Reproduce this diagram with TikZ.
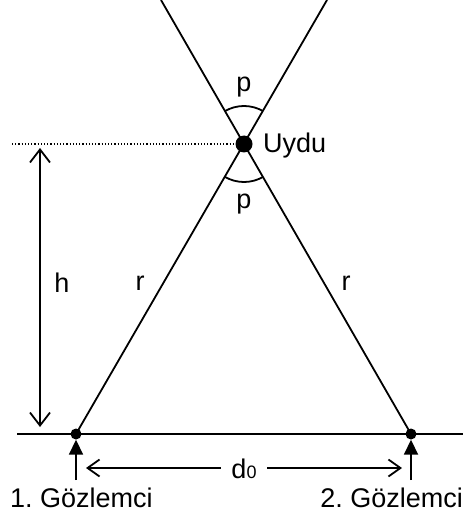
\documentclass[tikz,border=0pt]{standalone}
\usepackage{fontspec}
\setmainfont{Liberation Sans}
\usetikzlibrary{arrows.meta}
\frenchspacing
\begin{document}
\begin{tikzpicture}[x=1pt,y=1pt,
  ln/.style={line width=1.8pt},
  lbl/.style={font=\fontsize{27}{31}\selectfont, inner sep=0pt},
  dot/.style={circle, fill=black, inner sep=0pt},
  barb/.style={{Straight Barb[length=13pt,width=20pt,line width=1.8pt]}-{Straight Barb[length=13pt,width=20pt,line width=1.8pt]}},
  dbarb/.style={{Straight Barb[length=12pt,width=17pt,line width=1.8pt]}-{Straight Barb[length=12pt,width=17pt,line width=1.8pt]}},
  obsarrow/.style={-{Triangle[length=15pt,width=14pt]}}]
\useasboundingbox (0,0) rectangle (474,-513);
% points
\node[dot, minimum size=17pt] (sat) at (244,-144) {};
\node[dot, minimum size=11pt] (o1) at (76,-434) {};
\node[dot, minimum size=11pt] (o2) at (411,-434) {};
\coordinate (tl) at (161,0);
\coordinate (tr) at (327,0);
\coordinate (gl) at (17,-434);
\coordinate (gr) at (463,-434);
\coordinate (dl) at (12,-144);
\coordinate (hT) at (40,-148);
\coordinate (hB) at (40,-427);
\coordinate (a1) at (76,-480);
\coordinate (a2) at (411,-480);
\coordinate (d1) at (86,-468);
\coordinate (d2) at (402,-468);
% lines
\draw[ln] (gl) -- (gr);
\draw[ln] (o1.center) -- (tr);
\draw[ln] (o2.center) -- (tl);
\draw[line width=1.2pt, dash pattern=on 1.2pt off 2pt] (dl) -- (sat.west);
% angle arcs
\draw[ln] (sat.center) ++(60:38) arc[start angle=60, end angle=120, radius=38];
\draw[ln] (sat.center) ++(240:38) arc[start angle=240, end angle=300, radius=38];
% h arrow
\draw[ln, barb] (hT) -- (hB);
% observer arrows
\draw[ln, obsarrow] (a1) -- (o1.south);
\draw[ln, obsarrow] (a2) -- (o2.south);
% d0 arrow
\draw[ln, dbarb] (d1) -- (d2);
\node[lbl, fill=white, inner xsep=10pt, inner ysep=2pt] (d0) at (244,-469) {d{\fontsize{18}{20}\selectfont 0}};
% labels
\node[lbl, anchor=base] (p1) at (244,-92) {p};
\node[lbl, anchor=base] (p2) at (244,-208) {p};
\node[lbl, anchor=base west] (uydu) at (263,-153) {Uydu};
\node[lbl] (h) at (62,-283) {h};
\node[lbl] (r1) at (140,-283) {r};
\node[lbl] (r2) at (346,-283) {r};
\node[lbl, anchor=base west] (g1) at (10,-507) {1. Gözlemci};
\node[lbl, anchor=base east] (g2) at (463,-507) {2. Gözlemci};
\end{tikzpicture}
\end{document}
